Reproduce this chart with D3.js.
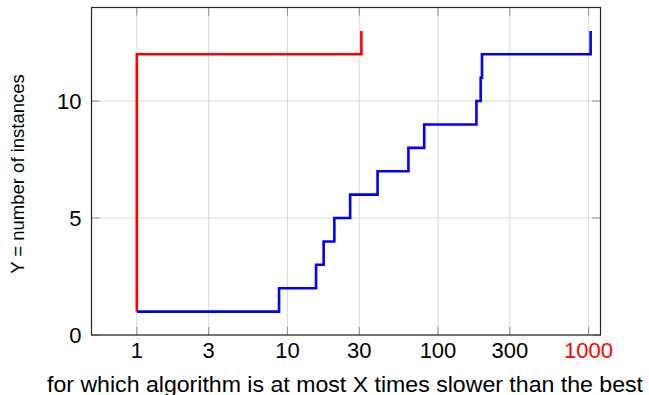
<!DOCTYPE html>
<html>
<head>
<meta charset="utf-8">
<script src="https://cdn.jsdelivr.net/npm/d3@7"></script>
<style>
  body { margin: 0; background: #fff; }
  svg { display: block; font-family: "Liberation Sans", Arial, Helvetica, sans-serif; }
</style>
</head>
<body>
<svg id="chart" width="649" height="395"></svg>
<script>
// performance profile: ratio at which each series reaches the next count
var redRatios = [1, 1, 31];
var redCounts = [1, 12, 13];
var blueRatios = [1, 8.8, 15.5, 17.4, 20.5, 26.1, 39.7, 63.6, 81, 180, 192, 196, 1032];
var blueCounts = [1, 2, 3, 4, 5, 6, 7, 8, 9, 10, 11, 12, 13];
var xTicks = [1, 3, 10, 30, 100, 300, 1000];
var yTicks = [0, 5, 10];

var margin = {left: 91.5, top: 7.5, right: 48.5, bottom: 60},
	width = 649 - margin.left - margin.right,
	height = 395 - margin.top - margin.bottom,
	tickLen = 8;

var svg = d3.select('#chart');
var g = svg.append('g')
	.attr('transform', 'translate(' + margin.left + ',' + margin.top + ')');

var x = d3.scaleLog().domain([0.5, 1200]).range([0, width]);
var y = d3.scaleLinear().domain([0, 14]).range([height, 0]);

// grid
g.append('g').selectAll('line').data(xTicks).enter().append('line')
	.attr('x1', function(d) { return x(d); })
	.attr('x2', function(d) { return x(d); })
	.attr('y1', 0).attr('y2', height)
	.attr('stroke', '#d9d9d9').attr('stroke-width', 1);
g.append('g').selectAll('line').data(yTicks).enter().append('line')
	.attr('x1', 0).attr('x2', width)
	.attr('y1', function(d) { return y(d); })
	.attr('y2', function(d) { return y(d); })
	.attr('stroke', '#d9d9d9').attr('stroke-width', 1);

// inward tick marks on all four sides
var ticks = g.append('g').attr('stroke', '#8c8c8c').attr('stroke-width', 1);
xTicks.forEach(function(d) {
	ticks.append('line').attr('x1', x(d)).attr('x2', x(d)).attr('y1', 0).attr('y2', tickLen);
	ticks.append('line').attr('x1', x(d)).attr('x2', x(d)).attr('y1', height).attr('y2', height - tickLen);
});
yTicks.forEach(function(d) {
	ticks.append('line').attr('x1', 0).attr('x2', tickLen).attr('y1', y(d)).attr('y2', y(d));
	ticks.append('line').attr('x1', width).attr('x2', width - tickLen).attr('y1', y(d)).attr('y2', y(d));
});

// series
var line = d3.line()
	.x(function(d) { return x(d[0]); })
	.y(function(d) { return y(d[1]); })
	.curve(d3.curveStepAfter);

g.append('path')
	.datum(d3.zip(redRatios, redCounts))
	.attr('d', line)
	.attr('fill', 'none').attr('stroke', '#ff0000').attr('stroke-width', 2.6);
g.append('path')
	.datum(d3.zip(blueRatios, blueCounts))
	.attr('d', line)
	.attr('fill', 'none').attr('stroke', '#0000ff').attr('stroke-width', 2.6);

// frame
g.append('rect')
	.attr('x', 0).attr('y', 0).attr('width', width).attr('height', height)
	.attr('fill', 'none').attr('stroke', '#262626').attr('stroke-width', 1.2);

// tick labels
g.append('g').selectAll('text').data(xTicks).enter().append('text')
	.attr('x', function(d) { return x(d); })
	.attr('y', height + 23)
	.attr('text-anchor', 'middle')
	.attr('font-size', 22)
	.attr('fill', function(d) { return d === 1000 ? '#ff0000' : '#000'; })
	.text(function(d) { return d; });

g.append('g').selectAll('text').data(yTicks).enter().append('text')
	.attr('x', -10)
	.attr('y', function(d) { return y(d); })
	.attr('dy', '0.36em')
	.attr('text-anchor', 'end')
	.attr('font-size', 22)
	.text(function(d) { return d; });

// axis titles
svg.append('text')
	.attr('x', 345).attr('y', 391.5)
	.attr('text-anchor', 'middle')
	.attr('font-size', 22)
	.attr('textLength', 596)
	.attr('lengthAdjust', 'spacingAndGlyphs')
	.text('for which algorithm is at most X times slower than the best');

svg.append('text')
	.attr('transform', 'translate(24,174) rotate(-90)')
	.attr('text-anchor', 'middle')
	.attr('font-size', 18.5)
	.text('Y = number of instances');
</script>
</body>
</html>
